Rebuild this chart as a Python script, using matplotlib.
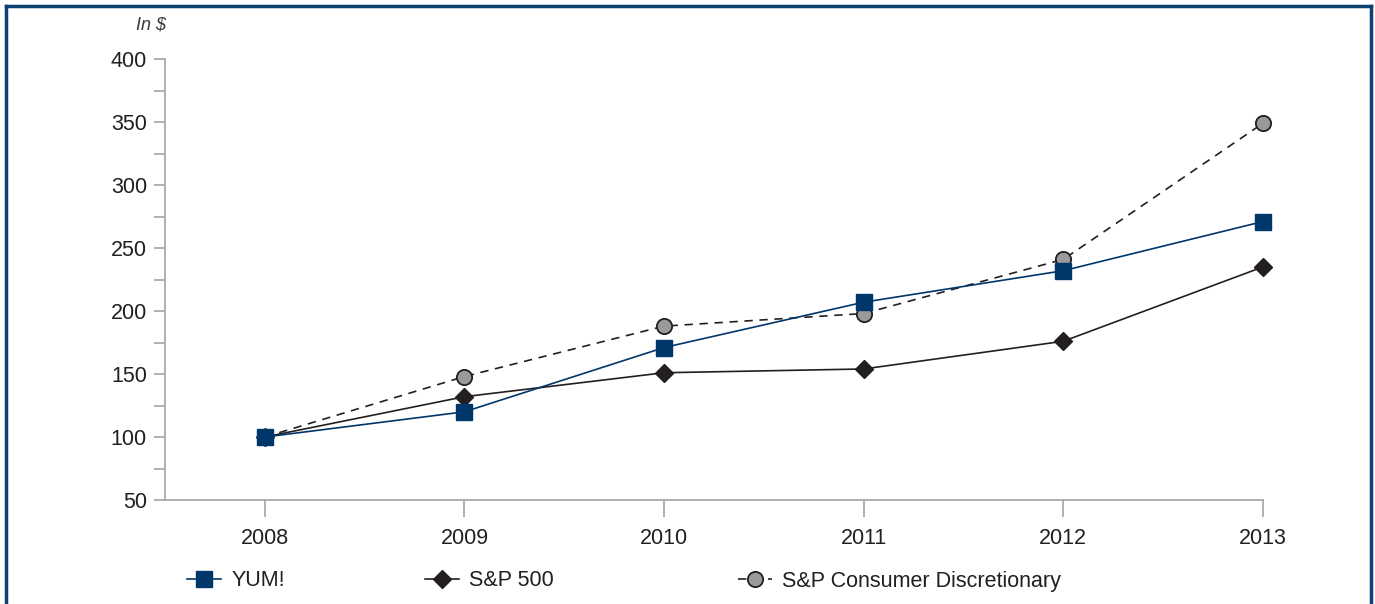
import matplotlib
matplotlib.use("Agg")
import matplotlib.pyplot as plt
from matplotlib.lines import Line2D
from matplotlib.ticker import MultipleLocator

years = [2008, 2009, 2010, 2011, 2012, 2013]
yum = [100, 120, 171, 207, 232, 271]
sp500 = [100, 132, 151, 154, 176, 235]
sp_cd = [100, 148, 188, 198, 241, 349]
labels = ["YUM!", "S&P 500", "S&P Consumer Discretionary"]

plt.rcParams['font.family'] = ['Liberation Sans', 'DejaVu Sans']

fig = plt.figure(figsize=(13.75, 6.04), dpi=100)
ax = fig.add_axes([165/1375, 1-500/604, (1263-165)/1375, (500-59)/604])

navy = '#00376b'
dark = '#231f20'
gray = '#9a9a9c'
spine_c = '#aaaaaa'
fs = 15.5

l1, = ax.plot(years, yum, color=navy, lw=1.2, marker='s', ms=12, mfc=navy, mec=navy, clip_on=False, zorder=4)
l2, = ax.plot(years, sp500, color=dark, lw=1.2, marker='D', ms=9, mfc=dark, mec=dark, clip_on=False, zorder=3)
l3, = ax.plot(years, sp_cd, color=dark, lw=1.2, ls=(0, (5, 4)), marker='o', ms=11, mfc=gray, mec=dark, mew=1.3, clip_on=False, zorder=2)

ax.set_xlim(2007.5, 2013)
ax.set_ylim(50, 400)
ax.set_xticks(years)
ax.set_yticks(range(50, 401, 50))
ax.yaxis.set_minor_locator(MultipleLocator(25))
for s in ['top', 'right']:
    ax.spines[s].set_visible(False)
for s in ['left', 'bottom']:
    ax.spines[s].set_color(spine_c)
    ax.spines[s].set_linewidth(1.3)
ax.tick_params(axis='both', which='both', color=spine_c, width=1.3, labelsize=fs, labelcolor='#231f20')
ax.tick_params(axis='y', which='major', length=8, pad=5)
ax.tick_params(axis='y', which='minor', length=8)
ax.tick_params(axis='x', which='major', length=12, pad=8)

fig.text(151/1375, 1-25/604, 'In $', fontsize=13, style='italic', color='#3a3a3a', ha='center', va='center')

# Legend entries placed individually
xs = [187, 425, 738]
for h, lab, x in zip([l1, l2, l3], labels, xs):
    fig.legend([h], [lab], loc='center left', bbox_to_anchor=(x/1375, 1-581/604),
               frameon=False, fontsize=fs, handlelength=1.6, handletextpad=0.45,
               borderaxespad=0, borderpad=0, labelcolor='#231f20')

# Frame border (top, left, right)
fc = '#0d3f73'
fig.add_artist(Line2D([6/1375, 6/1375], [0, 1-6/604], color=fc, lw=2.5, transform=fig.transFigure))
fig.add_artist(Line2D([1371/1375, 1371/1375], [0, 1-6/604], color=fc, lw=2.5, transform=fig.transFigure))
fig.add_artist(Line2D([6/1375, 1371/1375], [1-6/604, 1-6/604], color=fc, lw=2.5, transform=fig.transFigure))

fig.savefig('out.png', dpi=100)
